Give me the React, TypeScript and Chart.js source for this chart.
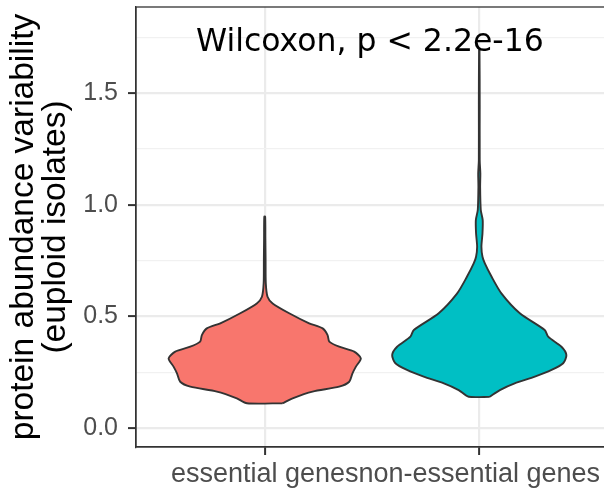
import React, { useEffect, useRef } from "react";
import { Chart, registerables } from "chart.js";

Chart.register(...registerables);

// ---- data ----
const categories = ["essential genes", "non-essential genes"];
const yTickValues = [0, 0.25, 0.5, 0.75, 1.0, 1.25, 1.5, 1.75];
const yTitle = ["protein abundance variability", "(euploid isolates)"];
const annotationText = "Wilcoxon, p < 2.2e-16";
const annotationX = 1.49;
const annotationY = 1.69;

// violin outlines: y value and half-width (in category units)
const essentialY = [0.111, 0.133, 0.163, 0.185, 0.207, 0.245, 0.275, 0.312, 0.342, 0.364, 0.387, 0.416, 0.446, 0.469, 0.514, 0.558, 0.588, 0.648, 0.75, 0.85, 0.946];
const essentialHalfWidth = [0.083, 0.13, 0.223, 0.347, 0.394, 0.409, 0.425, 0.448, 0.417, 0.347, 0.301, 0.293, 0.27, 0.207, 0.114, 0.037, 0.013, 0.005, 0.004, 0.003, 0.002];

const nonEssentialY = [0.14, 0.17, 0.2, 0.23, 0.26, 0.29, 0.327, 0.364, 0.409, 0.439, 0.514, 0.603, 0.678, 0.737, 0.767, 0.812, 0.872, 0.931, 0.976, 1.08, 1.14, 1.2, 1.45, 1.693];
const nonEssentialHalfWidth = [0.049, 0.096, 0.165, 0.259, 0.337, 0.391, 0.406, 0.383, 0.321, 0.305, 0.189, 0.103, 0.057, 0.026, 0.015, 0.01, 0.015, 0.016, 0.007, 0.004, 0.005, 0.002, 0.002, 0.001];

const fillColors = ["#F8766D", "#00BFC4"];

function outline(center: number, ys: number[], hw: number[]) {
  const pts: { x: number; y: number }[] = [];
  for (let i = 0; i < ys.length; i++) pts.push({ x: center + hw[i], y: ys[i] });
  for (let i = ys.length - 1; i >= 0; i--) pts.push({ x: center - hw[i], y: ys[i] });
  pts.push({ x: center + hw[0], y: ys[0] });
  return pts;
}

const FONT = "'Liberation Sans', Arial, sans-serif";

export default function App() {
  const ref = useRef<HTMLCanvasElement | null>(null);
  useEffect(() => {
    if (!ref.current) return;
    const isMajor = (v: number) => Math.abs(v * 2 - Math.round(v * 2)) < 1e-9;
    const panelPlugin = {
      id: "panelBorderAndLabel",
      afterDatasetsDraw(chart: any) {
        const { ctx, chartArea, scales } = chart;
        ctx.save();
        ctx.strokeStyle = "#333333";
        ctx.lineWidth = 1.3;
        ctx.strokeRect(chartArea.left, chartArea.top, chartArea.right - chartArea.left, chartArea.bottom - chartArea.top);
        ctx.fillStyle = "#000000";
        ctx.font = "31.5px 'DejaVu Sans'";
        ctx.textAlign = "center";
        ctx.textBaseline = "alphabetic";
        ctx.fillText(annotationText, scales.x.getPixelForValue(annotationX), scales.y.getPixelForValue(annotationY));
        ctx.restore();
      },
    };
    const chart = new Chart(ref.current, {
      type: "line",
      data: {
        datasets: [
          {
            data: outline(1, essentialY, essentialHalfWidth),
            backgroundColor: fillColors[0],
            borderColor: "#333333",
            borderWidth: 1.9,
            fill: "shape",
            pointRadius: 0,
            tension: 0.25,
          },
          {
            data: outline(2, nonEssentialY, nonEssentialHalfWidth),
            backgroundColor: fillColors[1],
            borderColor: "#333333",
            borderWidth: 1.9,
            fill: "shape",
            pointRadius: 0,
            tension: 0.25,
          },
        ],
      },
      options: {
        animation: false,
        responsive: false,
        parsing: false as any,
        layout: { padding: { top: 7, right: 4, left: 0, bottom: 0 } },
        plugins: { legend: { display: false }, tooltip: { enabled: false } },
        scales: {
          x: {
            type: "linear",
            min: 0.4,
            max: 2.6,
            afterBuildTicks: (s: any) => {
              s.ticks = categories.map((_, i) => ({ value: i + 1 }));
            },
            afterFit: (s: any) => {
              s.height = 45;
              s.paddingLeft = 0;
              s.paddingRight = 0;
            },
            ticks: {
              autoSkip: false,
              maxRotation: 0,
              minRotation: 0,
              padding: 3,
              color: "#4D4D4D",
              font: { family: FONT, size: 27 },
              callback: (v: any) => categories[Math.round(Number(v)) - 1] ?? "",
            },
            grid: {
              color: "#EBEBEB",
              lineWidth: 2.2,
              tickColor: "#333333",
              tickLength: 8,
              tickWidth: 2,
            },
            border: { display: true, color: "#333333", width: 1.3 },
          },
          y: {
            type: "linear",
            min: -0.085,
            max: 1.885,
            afterBuildTicks: (s: any) => {
              s.ticks = yTickValues.map((v) => ({ value: v }));
            },
            afterFit: (s: any) => {
              s.width = 136;
              s.paddingTop = 0;
              s.paddingBottom = 0;
            },
            ticks: {
              padding: 10,
              color: "#4D4D4D",
              font: { family: FONT, size: 25 },
              callback: (v: any) => (isMajor(Number(v)) ? Number(v).toFixed(1) : ""),
            },
            grid: {
              color: (c: any) => (isMajor(c.tick?.value ?? 0) ? "#EBEBEB" : "#F1F1F1"),
              lineWidth: (c: any) => (isMajor(c.tick?.value ?? 0) ? 2.2 : 1.3),
              tickColor: (c: any) => (isMajor(c.tick?.value ?? 0) ? "#333333" : "rgba(0,0,0,0)"),
              tickWidth: (c: any) => (isMajor(c.tick?.value ?? 0) ? 2 : 0),
              tickLength: 8,
            },
            border: { display: true, color: "#333333", width: 1.3 },
            title: {
              display: true,
              text: yTitle,
              color: "#000000",
              font: { family: FONT, size: 33.5, lineHeight: 0.96 },
              padding: { top: 8, bottom: 0 },
            },
          },
        },
      },
      plugins: [panelPlugin],
    } as any);
    return () => chart.destroy();
  }, []);
  return (
    <div style={{ position: "absolute", left: 0, top: 0, width: 604, height: 492, overflow: "hidden", background: "#fff" }}>
      <canvas ref={ref} width={612} height={492} style={{ width: 612, height: 492, display: "block" }} />
    </div>
  );
}
